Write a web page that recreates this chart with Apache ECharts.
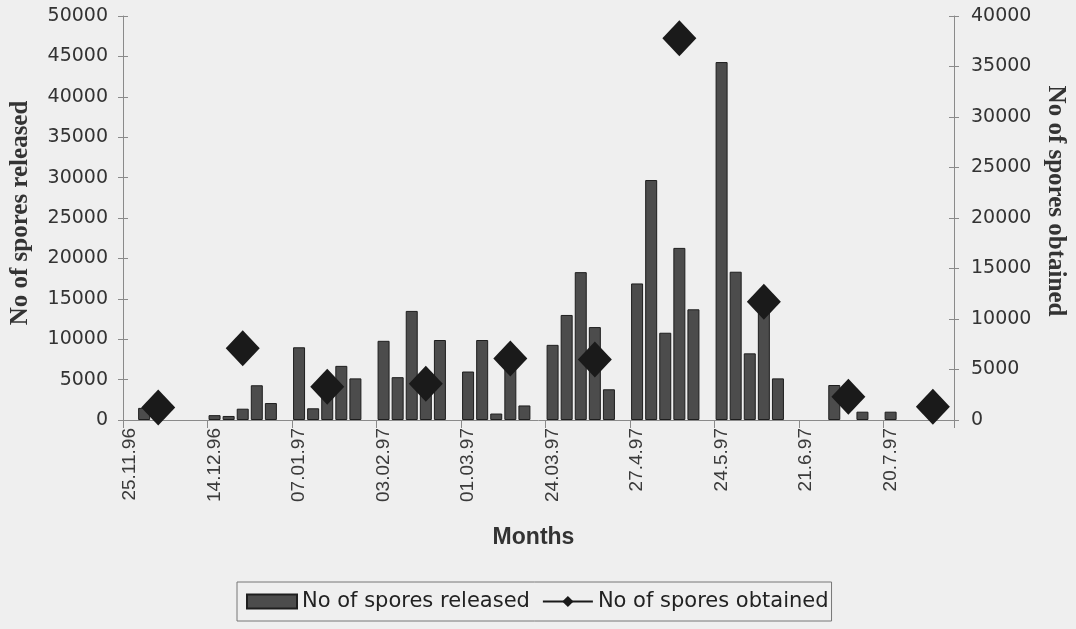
<!DOCTYPE html>
<html>
<head>
<meta charset="utf-8">
<script src="https://cdn.jsdelivr.net/npm/echarts@6/dist/echarts.min.js"></script>
<style>
  html, body { margin: 0; padding: 0; background: #efefef; }
  #chart { width: 1076px; height: 629px; }
</style>
</head>
<body>
<div id="chart"></div>
<script>
// Sampling dates shown on the category axis (one every six samples)
const dateLabels = ['25.11.96', '14.12.96', '07.01.97', '03.02.97', '01.03.97',
                    '24.03.97', '27.4.97', '24.5.97', '21.6.97', '20.7.97'];

// Sample number along the season
const samples = Array.from({ length: 59 }, (_, i) => String(i + 1));

// No of spores released (left axis)
const released = [
  null, 1500, null, null, null, null,
  600, 500, 1400, 4300, 2100, null,
  9000, 1450, 3000, 6700, 5150, null,
  9800, 5300, 13500, 4000, 9900, null,
  6000, 9900, 800, 7500, 1800, null,
  9300, 13000, 18300, 11500, 3800, null,
  16900, 29700, 10800, 21300, 13700, null,
  44300, 18350, 8250, 14000, 5150, null,
  null, null, 4330, null, 1030, null,
  1030, null, null, null, null
];

// No of spores obtained (right axis)
const obtained = [
  null, null, 1250, null, null, null,
  null, null, 7100, null, null, null,
  null, null, 3300, null, null, null,
  null, null, null, 3600, null, null,
  null, null, null, 6100, null, null,
  null, null, null, 6000, null, null,
  null, null, null, 37800, null, null,
  null, null, null, 11700, null, null,
  null, null, null, 2300, null, null,
  null, null, null, 1300, null
];

const leftTicks = { min: 0, max: 50000, interval: 5000 };
const rightTicks = { min: 0, max: 40000, interval: 5000 };

const gothic = 'DejaVu Sans';
const axisGray = '#8a8a8a';
const plain = v => String(v);

const chart = echarts.init(document.getElementById('chart'), null, { renderer: 'canvas' });

chart.setOption({
  backgroundColor: '#efefef',
  animation: false,
  grid: { left: 118, right: 121, top: 16, bottom: 209, containLabel: false },
  legend: {
    left: 237,
    top: 582,
    padding: [9, 3, 9, 9],
    itemGap: 12,
    itemWidth: 50,
    itemHeight: 14,
    borderColor: '#777',
    borderWidth: 1,
    textStyle: { fontFamily: gothic, fontSize: 21, color: '#222' },
    data: [
      { name: 'No of spores released', icon: 'rect' },
      { name: 'No of spores obtained' }
    ]
  },
  xAxis: {
    type: 'category',
    data: samples,
    boundaryGap: true,
    name: 'Months',
    nameLocation: 'middle',
    nameGap: 106,
    nameTextStyle: { fontFamily: 'Liberation Sans', fontWeight: 'bold', fontSize: 23, color: '#333', padding: [0, 10, 0, 0] },
    axisLine: { lineStyle: { color: axisGray, width: 1 } },
    axisTick: { show: true, interval: 5, length: 8, lineStyle: { color: axisGray } },
    axisLabel: {
      interval: 5,
      rotate: 90,
      margin: 8,
      fontFamily: 'Liberation Sans',
      fontSize: 19,
      color: '#3a3a3a',
      formatter: (v, i) => dateLabels[i / 6] || ''
    },
    splitLine: { show: false }
  },
  yAxis: [
    {
      type: 'value', position: 'left',
      min: leftTicks.min, max: leftTicks.max, interval: leftTicks.interval,
      name: 'No of spores released',
      nameLocation: 'middle',
      nameGap: 90,
      nameTextStyle: { fontFamily: 'Liberation Serif', fontWeight: 'bold', fontSize: 25, color: '#333', padding: [0, 0, 0, 10] },
      axisLine: { show: true, lineStyle: { color: axisGray } },
      axisTick: { show: true, length: 5, lineStyle: { color: axisGray } },
      axisLabel: { margin: 15, fontFamily: gothic, fontSize: 19, color: '#333', formatter: plain },
      splitLine: { show: false }
    },
    {
      type: 'value', position: 'right',
      min: rightTicks.min, max: rightTicks.max, interval: rightTicks.interval,
      name: 'No of spores obtained',
      nameLocation: 'middle',
      nameRotate: -90,
      nameGap: 89,
      nameTextStyle: { fontFamily: 'Liberation Serif', fontWeight: 'bold', fontSize: 25, color: '#333', padding: [0, 34, 0, 0] },
      axisLine: { show: true, lineStyle: { color: axisGray } },
      axisTick: { show: true, length: 5, lineStyle: { color: axisGray } },
      axisLabel: { margin: 17, fontFamily: gothic, fontSize: 19, color: '#333', formatter: plain },
      splitLine: { show: false }
    },
    // inner halves of the crossing tick marks
    {
      type: 'value', position: 'left',
      min: leftTicks.min, max: leftTicks.max, interval: leftTicks.interval,
      axisLine: { show: false },
      axisTick: { show: true, inside: true, length: 5, lineStyle: { color: axisGray } },
      axisLabel: { show: false },
      splitLine: { show: false }
    },
    {
      type: 'value', position: 'right',
      min: rightTicks.min, max: rightTicks.max, interval: rightTicks.interval,
      axisLine: { show: false },
      axisTick: { show: true, inside: true, length: 5, lineStyle: { color: axisGray } },
      axisLabel: { show: false },
      splitLine: { show: false }
    }
  ],
  series: [
    {
      name: 'No of spores released',
      type: 'bar',
      yAxisIndex: 0,
      data: released,
      barWidth: 12,
      itemStyle: { color: '#4c4c4c', borderColor: '#1e1e1e', borderWidth: 1 },
      z: 2
    },
    {
      name: 'No of spores obtained',
      type: 'line',
      yAxisIndex: 1,
      data: obtained,
      connectNulls: false,
      symbol: 'diamond',
      symbolSize: [34, 36],
      showAllSymbol: true,
      itemStyle: { color: '#1a1a1a' },
      lineStyle: { color: '#1a1a1a', width: 2 },
      z: 5
    }
  ]
});
</script>
</body>
</html>
